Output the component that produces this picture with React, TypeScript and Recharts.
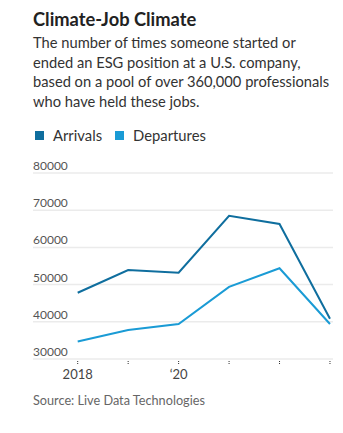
import React from "react";
import { LineChart, Line, XAxis, YAxis, CartesianGrid } from "recharts";

const years = [2018, 2019, 2020, 2021, 2022, 2023];
const arrivals = [47800, 53900, 53200, 68500, 66300, 40800];
const departures = [34700, 37800, 39400, 49400, 54400, 39400];
const yTicks = [30000, 40000, 50000, 60000, 70000, 80000];
const xTickLabels: Record<number, string> = { 2018: "2018", 2020: "\u201820" };

const data = years.map((y, i) => ({ year: y, arrivals: arrivals[i], departures: departures[i] }));

const FONT = "Lato, sans-serif";
const ARR = "#0f6e9e";
const DEP = "#1a9bd5";

const YTick = (props: any) => {
  const { y, payload } = props;
  return (
    <text x={33} y={y - 3} fontSize={12} fill="#555" fontFamily={FONT} textAnchor="start">
      {payload.value}
    </text>
  );
};

const XTick = (props: any) => {
  const { x, y, payload } = props;
  const label = xTickLabels[payload.value] ?? "";
  return (
    <g>
      <line x1={x} x2={x} y1={y + 2} y2={y + 6} stroke="#333" strokeWidth={1} strokeDasharray="1 1" />
      <text x={x} y={y + 20} fontSize={13} fill="#444" fontFamily={FONT} textAnchor="middle">
        {label}
      </text>
    </g>
  );
};

export default function App() {
  return (
    <div style={{ position: "absolute", left: 0, top: 0, width: 343, height: 433, background: "#fff", fontFamily: FONT }}>
      <div style={{ position: "absolute", left: 33, top: 8, fontSize: 18.3, fontWeight: 700, color: "#222", whiteSpace: "nowrap" }}>
        Climate-Job Climate
      </div>
      <div style={{ position: "absolute", left: 33, top: 33, fontSize: 14.7, lineHeight: "19.7px", color: "#333", whiteSpace: "nowrap" }}>
        The number of times someone started or<br />
        ended an ESG position at a U.S. company,<br />
        based on a pool of over 360,000 professionals<br />
        who have held these jobs.
      </div>
      <div style={{ position: "absolute", left: 35, top: 126, display: "flex", alignItems: "center", fontSize: 14.8, color: "#333", whiteSpace: "nowrap", lineHeight: "18px" }}>
        <span style={{ display: "inline-block", width: 9, height: 9, background: ARR, marginRight: 9 }} />
        <span style={{ marginRight: 13 }}>Arrivals</span>
        <span style={{ display: "inline-block", width: 9, height: 9, background: DEP, marginRight: 9 }} />
        <span>Departures</span>
      </div>
      <div style={{ position: "absolute", left: 0, top: 150 }}>
        <LineChart width={343} height={240} data={data} margin={{ top: 23, right: 10, bottom: 11, left: 0 }}>
          <CartesianGrid vertical={false} stroke="#ebebeb" strokeWidth={1.5} />
          <XAxis
            dataKey="year"
            type="number"
            domain={[2017.114, 2023.06]}
            ticks={years}
            axisLine={false}
            tickLine={false}
            tickSize={0}
            tickMargin={0}
            height={20}
            tick={XTick}
            interval={0}
          />
          <YAxis
            type="number"
            domain={[30000, 80000]}
            ticks={yTicks}
            width={33}
            axisLine={false}
            tickLine={false}
            tick={YTick}
            interval={0}
          />
          <Line dataKey="arrivals" stroke={ARR} strokeWidth={2} dot={false} isAnimationActive={false} type="linear" />
          <Line dataKey="departures" stroke={DEP} strokeWidth={2} dot={false} isAnimationActive={false} type="linear" />
        </LineChart>
      </div>
      <div style={{ position: "absolute", left: 33, top: 392, fontSize: 12.7, color: "#666", whiteSpace: "nowrap" }}>
        Source: Live Data Technologies
      </div>
    </div>
  );
}
